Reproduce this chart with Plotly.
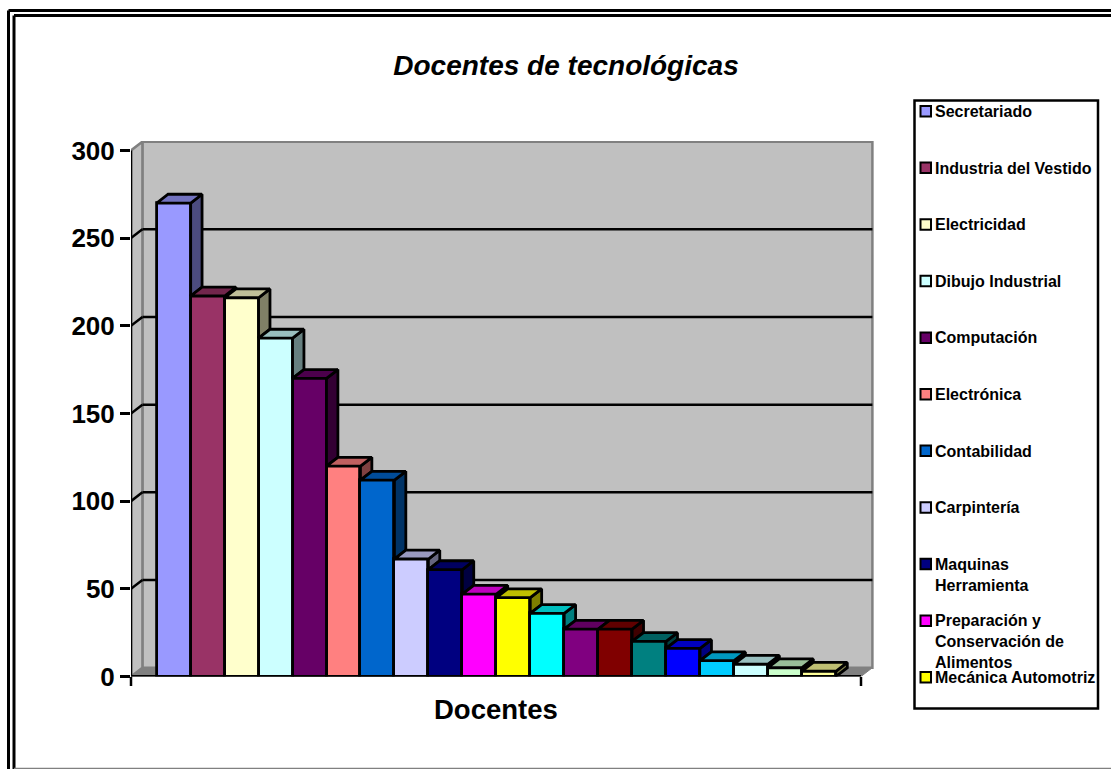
import plotly.graph_objects as go

categories = [
    "Secretariado", "Industria del Vestido", "Electricidad", "Dibujo Industrial",
    "Computación", "Electrónica", "Contabilidad", "Carpintería",
    "Maquinas Herramienta", "Preparación y Conservación de Alimentos",
    "Mecánica Automotriz", "Soldadura", "Mecánica Industrial", "Construcción",
    "Refrigeración", "Agropecuaria", "Artesanías", "Turismo", "Diseño", "Otras",
]
docentes = [270, 217, 216, 193, 170, 120, 112, 67, 61, 47, 45, 36, 27, 27, 20, 16, 9, 7, 5, 3]
colors = [
    "#9999FF", "#993366", "#FFFFCC", "#CCFFFF", "#660066", "#FF8080", "#0066CC",
    "#CCCCFF", "#000080", "#FF00FF", "#FFFF00", "#00FFFF", "#800080", "#800000",
    "#008080", "#0000FF", "#00CCFF", "#CCFFFF", "#CCFFCC", "#FFFF99",
]
y_ticks = [0, 50, 100, 150, 200, 250, 300]
legend_labels = [
    "Secretariado", "Industria del Vestido", "Electricidad", "Dibujo Industrial",
    "Computación", "Electrónica", "Contabilidad", "Carpintería",
    "Maquinas<br>Herramienta", "Preparación y<br>Conservación de<br>Alimentos",
    "Mecánica Automotriz",
]

W, H = 1111, 769
FONT = "Liberation Sans"

# Pixel layout of the plot box and the scales that follow from it
PLOT_L, PLOT_R, PLOT_T, PLOT_B = 131.0, 874.0, 141.0, 676.5
PX_PER_BAR = 33.96
PX_PER_UNIT = 1.7535
FIRST_BAR_CENTER = 156.7 + PX_PER_BAR / 2
x_lo = (PLOT_L - FIRST_BAR_CENTER) / PX_PER_BAR
x_hi = (PLOT_R - FIRST_BAR_CENTER) / PX_PER_BAR
y_hi = (PLOT_B - PLOT_T) / PX_PER_UNIT
x_front_end = (861.0 - FIRST_BAR_CENTER) / PX_PER_BAR

# Oblique depth of the walls and of the bars, in axis units
DX = 11.4 / PX_PER_BAR
DY = 8.8 / PX_PER_UNIT
EDGE = 2.8


def shade(hex_color, factor):
    r, g, b = (int(hex_color[i:i + 2], 16) for i in (1, 3, 5))
    return "#{:02X}{:02X}{:02X}".format(int(r * factor), int(g * factor), int(b * factor))


def px(x):
    return x / W


def py(y):
    return 1 - y / H


def polygon(points):
    path = "M " + " L ".join(f"{x},{y}" for x, y in points) + " Z"
    return path


fig = go.Figure()

# Front faces
fig.add_trace(go.Bar(
    x=list(range(len(docentes))), y=docentes, width=1.0,
    marker=dict(color=colors, line=dict(color="black", width=EDGE)),
    text=categories, hoverinfo="text+y", showlegend=False, textposition="none",
))

# Top and side faces; each side stops where the next bar's top begins
for i, (value, color) in enumerate(zip(docentes, colors)):
    left, right = i - 0.5, i + 0.5
    floor = docentes[i + 1] if i + 1 < len(docentes) else 0
    fig.add_trace(go.Scatter(
        x=[right, right + DX, right + DX, right, right],
        y=[value, value + DY, floor + DY, floor, value],
        mode="lines", fill="toself", fillcolor=shade(color, 0.5),
        line=dict(color="black", width=EDGE), hoverinfo="skip", showlegend=False,
    ))
    fig.add_trace(go.Scatter(
        x=[left, right, right + DX, left + DX, left],
        y=[value, value, value + DY, value + DY, value],
        mode="lines", fill="toself", fillcolor=shade(color, 0.75),
        line=dict(color="black", width=EDGE), hoverinfo="skip", showlegend=False,
    ))

shapes = []

# Back wall, side wall and floor
wall_line = dict(color="#808080", width=2.5)
shapes.append(dict(type="rect", xref="x", yref="y", layer="below",
                   x0=x_lo + DX, x1=x_front_end + DX, y0=DY, y1=300 + DY,
                   fillcolor="#C0C0C0", line=wall_line))
shapes.append(dict(type="path", xref="x", yref="y", layer="below",
                   path=polygon([(x_lo, 0), (x_lo + DX, DY), (x_lo + DX, 300 + DY), (x_lo, 300)]),
                   fillcolor="#C0C0C0", line=wall_line))
shapes.append(dict(type="path", xref="x", yref="y", layer="below",
                   path=polygon([(x_lo, 0), (x_front_end, 0), (x_front_end + DX, DY), (x_lo + DX, DY)]),
                   fillcolor="#808080", line=dict(color="#808080", width=1)))

# Gridlines on the back wall, tied to the axis ticks by short diagonals
for t in y_ticks[1:-1]:
    shapes.append(dict(type="line", xref="x", yref="y", layer="below",
                       x0=x_lo, y0=t, x1=x_lo + DX, y1=t + DY,
                       line=dict(color="black", width=2.5)))
    shapes.append(dict(type="line", xref="x", yref="y", layer="below",
                       x0=x_lo + DX, y0=t + DY, x1=x_front_end + DX, y1=t + DY,
                       line=dict(color="black", width=2.5)))

# Axis lines
shapes.append(dict(type="line", xref="x", yref="y", x0=x_lo, x1=x_lo, y0=0, y1=300,
                   line=dict(color="black", width=2.5)))
shapes.append(dict(type="line", xref="x", yref="y", x0=x_lo, x1=x_front_end, y0=0, y1=0,
                   line=dict(color="black", width=3)))
for pos in (PLOT_L, 861.0):
    shapes.append(dict(type="line", xref="paper", yref="paper",
                       x0=px(pos), x1=px(pos), y0=py(677), y1=py(686),
                       line=dict(color="black", width=2.5)))

# Double frame around the chart
frame_line = dict(color="black", width=3)
for left, top in ((8.5, 10.5), (14, 15.5)):
    shapes.append(dict(type="line", xref="paper", yref="paper", x0=px(left), x1=1, y0=py(top), y1=py(top), line=frame_line))
    shapes.append(dict(type="line", xref="paper", yref="paper", x0=px(left), x1=px(left), y0=py(top), y1=0, line=frame_line))
shapes.append(dict(type="line", xref="paper", yref="paper", x0=px(14), x1=1, y0=py(768.5), y1=py(768.5),
                   line=dict(color="#808080", width=1.5)))

# Legend box, swatches and labels
shapes.append(dict(type="rect", xref="paper", yref="paper",
                   x0=px(914.5), x1=px(1098), y0=py(100.5), y1=py(708.5),
                   fillcolor="white", line=dict(color="black", width=2.5)))
annotations = []
LEGEND_FIRST_Y, LEGEND_STEP = 111.5, 56.6
for i, (label, color) in enumerate(zip(legend_labels, colors)):
    center = LEGEND_FIRST_Y + LEGEND_STEP * i
    shapes.append(dict(type="rect", xref="paper", yref="paper",
                       x0=px(920.5), x1=px(931), y0=py(center - 5.5), y1=py(center + 5),
                       fillcolor=color, line=dict(color="black", width=2)))
    annotations.append(dict(
        xref="paper", yref="paper", x=px(934), y=py(center - 9.5),
        xanchor="left", yanchor="top", align="left", showarrow=False,
        text=label, borderpad=0,
        font=dict(family=FONT, size=16, color="black", weight="bold"),
    ))

annotations.append(dict(
    xref="paper", yref="paper", x=px(496), y=py(709), xanchor="center", yanchor="middle",
    text="Docentes", showarrow=False,
    font=dict(family=FONT, size=27.5, color="black", weight="bold"),
))

fig.update_layout(
    width=W, height=H, autosize=False,
    margin=dict(l=0, r=0, t=0, b=0, pad=0, autoexpand=False),
    paper_bgcolor="white", plot_bgcolor="white",
    title=dict(
        text="Docentes de tecnológicas", x=566 / W, xanchor="center",
        y=py(65), yanchor="middle",
        font=dict(family=FONT, size=28, color="black", weight="bold", style="italic"),
    ),
    xaxis=dict(
        domain=[px(PLOT_L), px(PLOT_R)], range=[x_lo, x_hi],
        showgrid=False, zeroline=False, showline=False, showticklabels=False, ticks="",
        fixedrange=True,
    ),
    yaxis=dict(
        domain=[py(PLOT_B), py(PLOT_T)], range=[0, y_hi],
        tickmode="array", tickvals=y_ticks, ticks="outside", ticklen=10, tickwidth=2.5,
        tickcolor="black", showgrid=False, zeroline=False, showline=False,
        tickfont=dict(family=FONT, size=26, color="black", weight="bold"),
        fixedrange=True,
    ),
    shapes=shapes, annotations=annotations, showlegend=False, bargap=0,
)

fig.write_html("out.html", config=dict(displayModeBar=False))
